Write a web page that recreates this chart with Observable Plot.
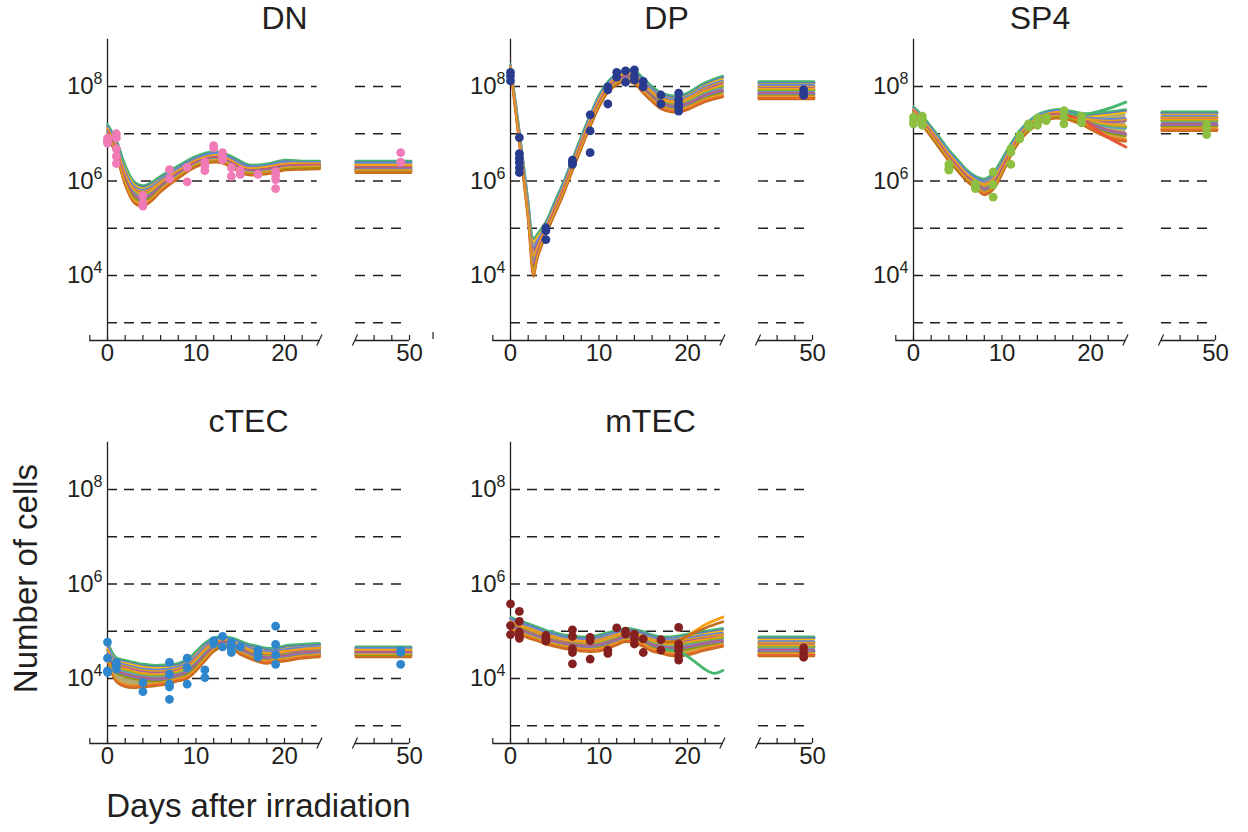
<!DOCTYPE html>
<html>
<head>
<meta charset="utf-8">
<script src="https://cdn.jsdelivr.net/npm/d3@7"></script>
<script src="https://cdn.jsdelivr.net/npm/@observablehq/plot@0.6"></script>
<style>
  html, body { margin: 0; padding: 0; background: #fff; }
  #fig { position: relative; width: 1248px; height: 832px; overflow: hidden; font-family: "Liberation Sans", Arial, sans-serif; }
  .panel { position: absolute; }
  #labels { position: absolute; left: 0; top: 0; pointer-events: none; }
</style>
</head>
<body>
<div id="fig"></div>
<script>
// ---- Shared axis values -------------------------------------------------
const gridValues = [1e3, 1e4, 1e5, 1e6, 1e7, 1e8];
const yLabelValues = [1e4, 1e6, 1e8];
const xLabelValues = [0, 10, 20, 50];
const tickDays = [-2, 0, 2, 4, 6, 8, 10, 12, 14, 16, 18, 20, 22, 46, 48, 50];
const lateSpan = [43.9, 50.2];   // steady-state segment drawn after the axis break

// ---- DN (log10 cells) ---------------------------------------------------
const dnFitDays = [0, 1, 2, 3, 4, 5, 6, 8, 10, 12, 13, 14, 15, 16, 18, 20, 22, 24];
const dnFits = [
  [7.18, 6.85, 6.32, 5.97, 5.88, 5.95, 6.08, 6.30, 6.50, 6.60, 6.57, 6.50, 6.40, 6.32, 6.34, 6.42, 6.40, 6.40],
  [7.12, 6.77, 6.20, 5.86, 5.78, 5.86, 6.00, 6.23, 6.44, 6.55, 6.52, 6.44, 6.33, 6.27, 6.30, 6.37, 6.37, 6.37],
  [7.08, 6.70, 6.12, 5.78, 5.70, 5.78, 5.93, 6.19, 6.41, 6.51, 6.48, 6.40, 6.29, 6.24, 6.27, 6.33, 6.34, 6.34],
  [7.03, 6.62, 6.03, 5.68, 5.60, 5.70, 5.87, 6.14, 6.37, 6.47, 6.45, 6.36, 6.25, 6.20, 6.22, 6.29, 6.31, 6.31],
  [6.97, 6.55, 5.93, 5.56, 5.49, 5.60, 5.79, 6.08, 6.32, 6.42, 6.40, 6.31, 6.20, 6.15, 6.17, 6.25, 6.27, 6.28]
];
const dnLate = [6.40, 6.35, 6.30, 6.25, 6.20];
const dnObs = [
  [0, 6.90], [0, 6.85], [0, 6.80], [1, 7.00], [1, 6.91], [1, 6.68], [1, 6.52], [1, 6.37],
  [4, 5.69], [4, 5.54], [4, 5.47], [7, 6.24], [7, 6.05], [9, 6.29], [9, 5.98],
  [11, 6.40], [11, 6.32], [11, 6.22], [12, 6.75], [12, 6.70], [13, 6.60], [13, 6.51], [13, 6.45],
  [14, 6.28], [14, 6.10], [15, 6.22], [15, 6.14], [17, 6.14],
  [19, 6.20], [19, 6.12], [19, 6.03], [19, 5.84], [49, 6.60], [49, 6.40]
];

// ---- DP -----------------------------------------------------------------
const dpFitDays = [0, 1, 2, 2.6, 3, 4, 5, 6, 7, 8, 9, 10, 11, 12, 13, 14, 15, 16, 17, 18, 19, 20, 22, 24];
const dpFits = [
  [8.45, 7.05, 5.55, 4.76, 4.85, 5.12, 5.55, 5.97, 6.45, 6.93, 7.38, 7.80, 8.08, 8.25, 8.33, 8.31, 8.16, 7.98, 7.85, 7.79, 7.78, 7.84, 8.06, 8.20],
  [8.43, 6.98, 5.45, 4.56, 4.70, 5.06, 5.49, 5.92, 6.40, 6.88, 7.33, 7.75, 8.04, 8.21, 8.28, 8.26, 8.09, 7.91, 7.77, 7.71, 7.70, 7.76, 7.97, 8.10],
  [8.41, 6.92, 5.36, 4.37, 4.55, 5.00, 5.43, 5.86, 6.35, 6.82, 7.28, 7.70, 7.99, 8.16, 8.23, 8.20, 8.02, 7.84, 7.70, 7.64, 7.63, 7.69, 7.88, 8.00],
  [8.39, 6.86, 5.27, 4.20, 4.45, 4.94, 5.37, 5.80, 6.29, 6.76, 7.22, 7.64, 7.94, 8.11, 8.18, 8.14, 7.95, 7.77, 7.63, 7.57, 7.56, 7.61, 7.79, 7.90],
  [8.37, 6.80, 5.18, 4.00, 4.35, 4.88, 5.31, 5.74, 6.23, 6.70, 7.16, 7.58, 7.89, 8.06, 8.13, 8.08, 7.88, 7.70, 7.55, 7.49, 7.48, 7.53, 7.70, 7.80]
];
const dpLate = [8.08, 8.00, 7.92, 7.84, 7.76];
const dpObs = [
  [0, 8.30], [0, 8.22], [0, 8.12], [1, 6.92], [1, 6.58], [1, 6.48], [1, 6.39], [1, 6.28], [1, 6.18],
  [4, 5.01], [4, 4.95], [4, 4.76], [7, 6.44], [7, 6.39], [7, 6.35], [9, 7.40], [9, 7.06], [9, 6.60],
  [11, 7.99], [11, 7.93], [11, 7.63], [12, 8.30], [12, 8.20], [13, 8.33], [13, 8.09],
  [14, 8.35], [14, 8.23], [14, 8.14], [15, 8.11], [15, 7.99], [17, 7.82], [17, 7.63],
  [19, 7.86], [19, 7.72], [19, 7.63], [19, 7.56], [19, 7.48], [49, 7.93], [49, 7.84], [49, 7.81]
];

// ---- SP4 ----------------------------------------------------------------
const sp4FitDays = [0, 1, 2, 3, 4, 5, 6, 7, 8, 9, 10, 11, 12, 13, 14, 15, 16, 17, 18, 19, 20, 22, 24];
const sp4Fits = [
  [7.55, 7.36, 7.13, 6.89, 6.64, 6.43, 6.22, 6.08, 6.02, 6.15, 6.45, 6.77, 7.05, 7.24, 7.38, 7.45, 7.49, 7.49, 7.45, 7.41, 7.40, 7.44, 7.49],
  [7.52, 7.32, 7.08, 6.84, 6.59, 6.38, 6.17, 6.03, 5.95, 6.07, 6.38, 6.72, 7.01, 7.21, 7.35, 7.42, 7.46, 7.45, 7.40, 7.35, 7.31, 7.28, 7.30],
  [7.49, 7.28, 7.04, 6.79, 6.54, 6.33, 6.12, 5.98, 5.88, 6.00, 6.31, 6.67, 6.96, 7.16, 7.31, 7.39, 7.42, 7.42, 7.37, 7.31, 7.25, 7.17, 7.14],
  [7.46, 7.24, 6.99, 6.74, 6.49, 6.28, 6.07, 5.93, 5.81, 5.92, 6.24, 6.61, 6.91, 7.12, 7.27, 7.36, 7.39, 7.38, 7.33, 7.27, 7.19, 7.05, 6.98],
  [7.43, 7.20, 6.95, 6.69, 6.44, 6.23, 6.02, 5.87, 5.73, 5.84, 6.16, 6.55, 6.86, 7.07, 7.22, 7.31, 7.35, 7.34, 7.29, 7.22, 7.12, 6.94, 6.86]
];
const sp4Late = [7.44, 7.35, 7.27, 7.18, 7.09];
const sp4OutlierDays = [17, 18, 19, 20, 22, 24];
const sp4HighOutlier = [7.42, 7.41, 7.40, 7.43, 7.53, 7.67];
const sp4LowOutlier = [7.40, 7.36, 7.30, 7.18, 6.92, 6.72];
const sp4Obs = [
  [0, 7.35], [0, 7.28], [0, 7.21], [1, 7.37], [1, 7.30], [1, 7.23], [1, 7.18],
  [4, 6.35], [4, 6.27], [4, 6.23], [7, 5.94], [7, 5.87], [7, 5.84], [9, 6.19], [9, 5.92], [9, 5.66],
  [11, 6.68], [11, 6.61], [11, 6.35], [12, 6.96], [12, 6.89], [13, 7.21], [13, 7.14],
  [14, 7.33], [14, 7.26], [14, 7.18], [15, 7.35], [15, 7.28], [17, 7.49], [17, 7.35], [17, 7.21],
  [19, 7.37], [19, 7.30], [19, 7.23], [49, 7.19], [49, 7.11], [49, 6.98]
];

// ---- cTEC ---------------------------------------------------------------
const ctecFitDays = [0, 0.5, 1, 2, 3, 4, 5, 6, 7, 8, 9, 10, 11, 12, 13, 14, 15, 16, 17, 18, 19, 20, 22, 24];
const ctecFits = [
  [4.78, 4.55, 4.42, 4.36, 4.32, 4.28, 4.26, 4.26, 4.27, 4.30, 4.38, 4.55, 4.73, 4.84, 4.86, 4.84, 4.77, 4.70, 4.66, 4.62, 4.62, 4.67, 4.70, 4.72],
  [4.70, 4.46, 4.33, 4.26, 4.22, 4.18, 4.16, 4.16, 4.18, 4.22, 4.30, 4.46, 4.65, 4.78, 4.82, 4.80, 4.71, 4.63, 4.58, 4.55, 4.55, 4.59, 4.63, 4.66],
  [4.60, 4.38, 4.24, 4.17, 4.12, 4.08, 4.06, 4.06, 4.09, 4.13, 4.21, 4.37, 4.57, 4.72, 4.78, 4.76, 4.66, 4.57, 4.52, 4.49, 4.50, 4.53, 4.58, 4.60],
  [4.50, 4.28, 4.14, 4.07, 4.02, 3.99, 3.97, 3.97, 4.00, 4.05, 4.12, 4.28, 4.48, 4.65, 4.74, 4.71, 4.60, 4.51, 4.45, 4.42, 4.44, 4.46, 4.52, 4.54],
  [4.40, 4.12, 3.95, 3.85, 3.83, 3.84, 3.86, 3.88, 3.92, 3.97, 4.02, 4.18, 4.39, 4.59, 4.70, 4.66, 4.53, 4.45, 4.38, 4.34, 4.38, 4.39, 4.45, 4.48]
];
const ctecLate = [4.65, 4.61, 4.57, 4.52, 4.48];
const ctecObs = [
  [0, 4.77], [0, 4.43], [0, 4.16], [0, 4.13], [1, 4.34], [1, 4.27], [1, 4.20], [4, 3.91], [4, 3.72],
  [7, 4.34], [7, 4.09], [7, 3.88], [7, 3.82], [7, 3.56], [9, 4.43], [9, 4.23], [9, 3.88],
  [11, 4.18], [11, 4.02], [12, 4.80], [12, 4.73], [13, 4.89], [13, 4.67],
  [14, 4.77], [14, 4.70], [14, 4.62], [14, 4.55], [15, 4.67], [17, 4.60], [17, 4.52], [17, 4.45],
  [19, 5.11], [19, 4.72], [19, 4.50], [19, 4.30], [49, 4.59], [49, 4.55], [49, 4.30]
];

// ---- mTEC ---------------------------------------------------------------
const mtecFitDays = [0, 1, 2, 3, 4, 5, 6, 7, 8, 9, 10, 11, 12, 13, 14, 15, 16, 17, 18, 19, 20, 22, 24];
const mtecFits = [
  [5.28, 5.20, 5.14, 5.07, 5.00, 4.95, 4.90, 4.88, 4.86, 4.86, 4.90, 4.95, 5.00, 5.04, 5.02, 4.97, 4.90, 4.86, 4.86, 4.88, 4.92, 4.98, 5.04],
  [5.22, 5.14, 5.08, 5.01, 4.94, 4.89, 4.84, 4.82, 4.80, 4.80, 4.83, 4.88, 4.94, 4.98, 4.97, 4.91, 4.84, 4.80, 4.79, 4.80, 4.83, 4.89, 4.94],
  [5.15, 5.08, 5.01, 4.94, 4.88, 4.83, 4.78, 4.76, 4.74, 4.73, 4.76, 4.81, 4.87, 4.93, 4.91, 4.85, 4.77, 4.73, 4.71, 4.71, 4.74, 4.80, 4.86],
  [5.08, 5.02, 4.95, 4.88, 4.82, 4.76, 4.72, 4.69, 4.67, 4.66, 4.69, 4.74, 4.80, 4.86, 4.85, 4.78, 4.69, 4.65, 4.62, 4.62, 4.65, 4.72, 4.78],
  [5.02, 4.96, 4.88, 4.82, 4.75, 4.70, 4.66, 4.63, 4.60, 4.59, 4.60, 4.66, 4.73, 4.80, 4.77, 4.70, 4.60, 4.56, 4.51, 4.50, 4.52, 4.62, 4.70]
];
const mtecLate = [4.86, 4.76, 4.67, 4.58, 4.50];
const mtecRiseDays = [17, 18, 19, 20, 22, 24];
const mtecOrangeRise = [4.76, 4.74, 4.78, 4.90, 5.14, 5.30];
const mtecBrownRise = [4.78, 4.77, 4.80, 4.90, 5.07, 5.20];
const mtecDropDays = [17, 18, 19, 20, 21, 22, 23, 24];
const mtecGreenDrop = [4.62, 4.60, 4.57, 4.47, 4.33, 4.19, 4.11, 4.17];
const mtecObs = [
  [0, 5.58], [0, 5.12], [0, 4.93], [1, 5.42], [1, 5.21], [1, 4.98], [1, 4.91], [1, 4.85],
  [4, 4.91], [4, 4.84], [4, 4.79], [7, 5.03], [7, 4.89], [7, 4.63], [7, 4.55], [7, 4.31],
  [9, 4.87], [9, 4.80], [9, 4.41], [11, 4.60], [11, 4.53], [12, 5.07], [13, 5.00], [13, 4.94],
  [14, 4.94], [14, 4.84], [14, 4.73], [15, 4.84], [15, 4.55], [17, 4.82], [17, 4.60],
  [19, 5.08], [19, 4.73], [19, 4.66], [19, 4.59], [19, 4.48], [19, 4.39], [49, 4.65], [49, 4.55], [49, 4.45]
];

// ---- Styling --------------------------------------------------------------
const ink = "#231f20";
// Each fit is stroked in three interleaved passes so the ensemble reads as a striped ribbon.
const stripePasses = [
  {colors: ["#5E81B5", "#E19C24", "#8FB032", "#8778B3", "#EB6235"], dy: 0,    width: 2.6},
  {colors: ["#FFBF00", "#A5609D", "#5D9EC7", "#929600", "#C56E1A"], dy: 1.6,  width: 1.6},
  {colors: ["#47B66D", "#6685D9", "#F89F13", "#BC5B80", "#E19C24"], dy: -1.6, width: 1.6}
];
const bandFill = "#AFA262";
const font = "'Liberation Sans', Arial, Helvetica, sans-serif";

const panels = [
  {name: "DN",   fitDays: dnFitDays,   fits: dnFits,   late: dnLate,   obs: dnObs,   dot: "#F07BB6", extras: [],
   left: 0,   top: 0,   titleX: 284.5, strayTick: true},
  {name: "DP",   fitDays: dpFitDays,   fits: dpFits,   late: dpLate,   obs: dpObs,   dot: "#283B8E", extras: [],
   left: 403, top: 0,   titleX: 666.5},
  {name: "SP4",  fitDays: sp4FitDays,  fits: sp4Fits,  late: sp4Late,  obs: sp4Obs,  dot: "#8DBF42",
   extras: [{days: sp4OutlierDays, vals: sp4HighOutlier, color: "#47B66D"},
            {days: sp4OutlierDays, vals: sp4LowOutlier, color: "#E95536"}],
   left: 806, top: 0,   titleX: 1040},
  {name: "cTEC", fitDays: ctecFitDays, fits: ctecFits, late: ctecLate, obs: ctecObs, dot: "#2E86CD", extras: [],
   left: 0,   top: 403, titleX: 248.5},
  {name: "mTEC", fitDays: mtecFitDays, fits: mtecFits, late: mtecLate, obs: mtecObs, dot: "#84201F",
   extras: [{days: mtecRiseDays, vals: mtecOrangeRise, color: "#F89F13"},
            {days: mtecRiseDays, vals: mtecBrownRise, color: "#C56E1A"},
            {days: mtecDropDays, vals: mtecGreenDrop, color: "#47B66D"}],
   left: 403, top: 403, titleX: 650.5}
];

// Broken x axis: days -2..24, then a short stretch ending at day 50.
const xBreaks = [-2, 24, 43.9, 50.2];
const xPixels = [89.3, 319.4, 355, 410.8];
const yBottom = 10 ** 2.624, yTop = 1e9;
const axisSegments = [[-2, 24], [43.9, 50]];

const fig = document.getElementById("fig");

function drawPanel(p) {
  const last = p.fits.length - 1;
  const fitRows = p.fits.flatMap((vals, k) => p.fitDays.map((day, i) => ({day, cells: 10 ** vals[i], k})));
  const bandRows = p.fitDays.map((day, i) => ({day, lo: 10 ** p.fits[last][i], hi: 10 ** p.fits[0][i]}));
  const lateRows = p.late.flatMap((v, k) => lateSpan.map(day => ({day, cells: 10 ** v, k})));
  const lateBand = lateSpan.map(day => ({day, lo: 10 ** p.late[last], hi: 10 ** p.late[0]}));
  const extraRows = p.extras.flatMap((e, k) => e.days.map((day, i) => ({day, cells: 10 ** e.vals[i], k, color: e.color})));

  const stripeMarks = stripePasses.flatMap(pass => [
    Plot.line(fitRows, {x: "day", y: "cells", z: "k", stroke: d => pass.colors[d.k],
      strokeWidth: pass.width, dy: pass.dy, curve: "catmull-rom"}),
    Plot.line(lateRows, {x: "day", y: "cells", z: "k", stroke: d => pass.colors[d.k],
      strokeWidth: pass.width, dy: pass.dy})
  ]);

  const svg = Plot.plot({
    width: 440, height: 375,
    marginTop: 39, marginBottom: 35, marginLeft: 89, marginRight: 29,
    x: {type: "linear", domain: xBreaks, range: xPixels, axis: null},
    y: {type: "log", domain: [yBottom, yTop], range: [340, 38.75], axis: null},
    style: {fontFamily: font, background: "transparent", overflow: "visible", color: ink},
    marks: [
      // dashed decade gridlines
      Plot.ruleY(gridValues, {x1: 0, x2: 23.7, stroke: ink, strokeWidth: 1.4, strokeDasharray: "10,7"}),
      Plot.ruleY(gridValues, {x1: 43.9, x2: 49.3, stroke: ink, strokeWidth: 1.4, strokeDasharray: "10,8"}),
      // axes
      Plot.ruleX([0], {y1: yBottom, y2: yTop, stroke: ink, strokeWidth: 1.3}),
      Plot.ruleY(axisSegments, {y: yBottom, x1: d => d[0], x2: d => d[1], stroke: ink, strokeWidth: 1.3}),
      Plot.ruleX(tickDays, {insetTop: 296, stroke: ink, strokeWidth: 1.2}),
      Plot.text(xLabelValues, {x: d => d, text: d => String(d), frameAnchor: "bottom", dy: 20, fontSize: 24, fill: ink}),
      Plot.text(yLabelValues, {x: 0, y: d => d, text: d => `10^${Math.round(Math.log10(d))}`,
        textAnchor: "end", dx: -5, fontSize: 24, fill: ink}),
      // ensemble of model fits
      Plot.areaY(bandRows, {x: "day", y1: "lo", y2: "hi", curve: "catmull-rom", fill: bandFill, fillOpacity: 0.9}),
      Plot.areaY(lateBand, {x: "day", y1: "lo", y2: "hi", fill: bandFill, fillOpacity: 0.9}),
      ...stripeMarks,
      Plot.line(extraRows, {x: "day", y: "cells", z: "k", stroke: "color", strokeWidth: 2.8, curve: "catmull-rom"}),
      // measured cell counts
      Plot.dot(p.obs, {x: d => d[0], y: d => 10 ** d[1], r: 4.4, fill: p.dot, stroke: "none"})
    ]
  });

  // superscript exponents on the y labels
  d3.select(svg).selectAll("text")
    .filter(function () { return this.textContent.includes("^"); })
    .each(function () {
      const [base, exp] = this.textContent.split("^");
      this.textContent = base;
      d3.select(this).append("tspan").attr("dy", -10).attr("font-size", 16).text(exp);
    });

  // break marks on the x axis
  const sx = svg.scale("x"), sy = svg.scale("y");
  const y0 = sy.apply(yBottom);
  for (const day of [24, 43.9]) {
    const cx = sx.apply(day);
    d3.select(svg).append("line")
      .attr("x1", cx - 2.6).attr("y1", y0 + 5.5)
      .attr("x2", cx + 2.6).attr("y2", y0 - 5.5)
      .attr("stroke", ink).attr("stroke-width", 1.2);
  }
  if (p.strayTick) {
    const tx = sx.apply(50) + 24;
    d3.select(svg).append("line")
      .attr("x1", tx).attr("y1", y0 - 8).attr("x2", tx).attr("y2", y0 - 1)
      .attr("stroke", ink).attr("stroke-width", 1.2);
  }

  const holder = document.createElement("div");
  holder.className = "panel";
  holder.style.left = p.left + "px";
  holder.style.top = p.top + "px";
  holder.appendChild(svg);
  fig.appendChild(holder);
}

panels.forEach(drawPanel);

// titles and shared axis labels
const NS = "http://www.w3.org/2000/svg";
const labels = document.createElementNS(NS, "svg");
labels.setAttribute("id", "labels");
labels.setAttribute("width", 1248);
labels.setAttribute("height", 832);
const lab = d3.select(labels).attr("font-family", font).attr("fill", ink);
for (const p of panels) {
  lab.append("text").attr("x", p.titleX).attr("y", p.top + 28.5)
    .attr("text-anchor", "middle").attr("font-size", 32).text(p.name);
}
lab.append("text").attr("x", 258.5).attr("y", 817)
  .attr("text-anchor", "middle").attr("font-size", 33).text("Days after irradiation");
lab.append("text").attr("transform", "translate(37,578.5) rotate(-90)")
  .attr("text-anchor", "middle").attr("font-size", 33).text("Number of cells");
fig.appendChild(labels);
</script>
</body>
</html>
